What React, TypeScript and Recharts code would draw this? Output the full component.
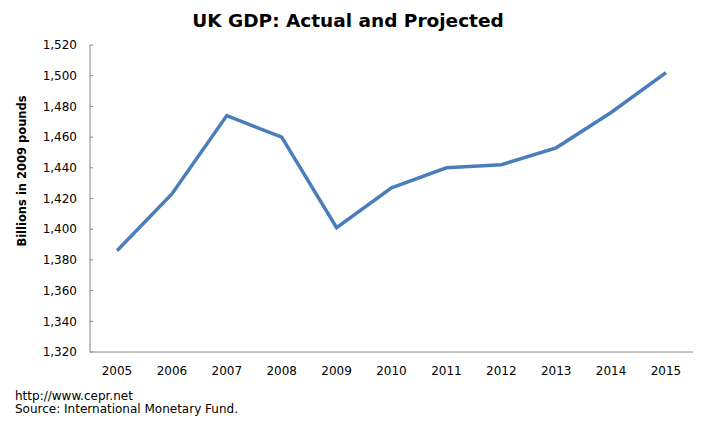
import React from 'react';
import { LineChart, Line, XAxis, YAxis } from 'recharts';

const years = ['2005', '2006', '2007', '2008', '2009', '2010', '2011', '2012', '2013', '2014', '2015'];
const gdp = [1386, 1423, 1474, 1460, 1401, 1427, 1440, 1442, 1453, 1476, 1502];
const yTicks = [1320, 1340, 1360, 1380, 1400, 1420, 1440, 1460, 1480, 1500, 1520];

const data = years.map((year, i) => ({ year, gdp: gdp[i] }));

const FONT = '"DejaVu Sans", Verdana, sans-serif';
const AXIS = '#868686';

export default function App() {
  return (
    <div style={{ position: 'absolute', left: 0, top: 0, width: 705, height: 425, background: '#fff', fontFamily: FONT }}>
      <LineChart width={705} height={425} data={data} margin={{ top: 45, right: 12, bottom: 43, left: 0 }}>
        <XAxis
          dataKey="year"
          stroke={AXIS}
          tickLine={false}
          tickSize={0}
          tickMargin={14}
          padding={{ left: 27, right: 27 }}
          tick={{ fill: '#000', fontSize: 12, fontFamily: FONT }}
          interval={0}
        />
        <YAxis
          width={90}
          domain={[1320, 1520]}
          ticks={yTicks}
          stroke={AXIS}
          tickSize={-3}
          tickMargin={16}
          tickFormatter={(v: number) => v.toLocaleString('en-US')}
          tick={{ fill: '#000', fontSize: 12, fontFamily: FONT }}
          interval={0}
        />
        <Line type="linear" dataKey="gdp" stroke="#4A7EBB" strokeWidth={3.5} dot={false} isAnimationActive={false} />
      </LineChart>
      <svg width={705} height={425} style={{ position: 'absolute', left: 0, top: 0, pointerEvents: 'none' }}>
        <text x={348} y={20} textAnchor="middle" dominantBaseline="central" fontFamily={FONT} fontWeight="bold" fontSize={18.5} fill="#000">
          UK GDP: Actual and Projected
        </text>
        <text
          x={22}
          y={171}
          transform="rotate(-90 22 171)"
          textAnchor="middle"
          dominantBaseline="central"
          fontFamily={FONT}
          fontWeight="bold"
          fontSize={11.5}
          fill="#000"
        >
          Billions in 2009 pounds
        </text>
        <text x={15} y={400} fontFamily={FONT} fontSize={12} fill="#000">http://www.cepr.net</text>
        <text x={15} y={413} fontFamily={FONT} fontSize={12} fill="#000">Source: International Monetary Fund.</text>
      </svg>
    </div>
  );
}
